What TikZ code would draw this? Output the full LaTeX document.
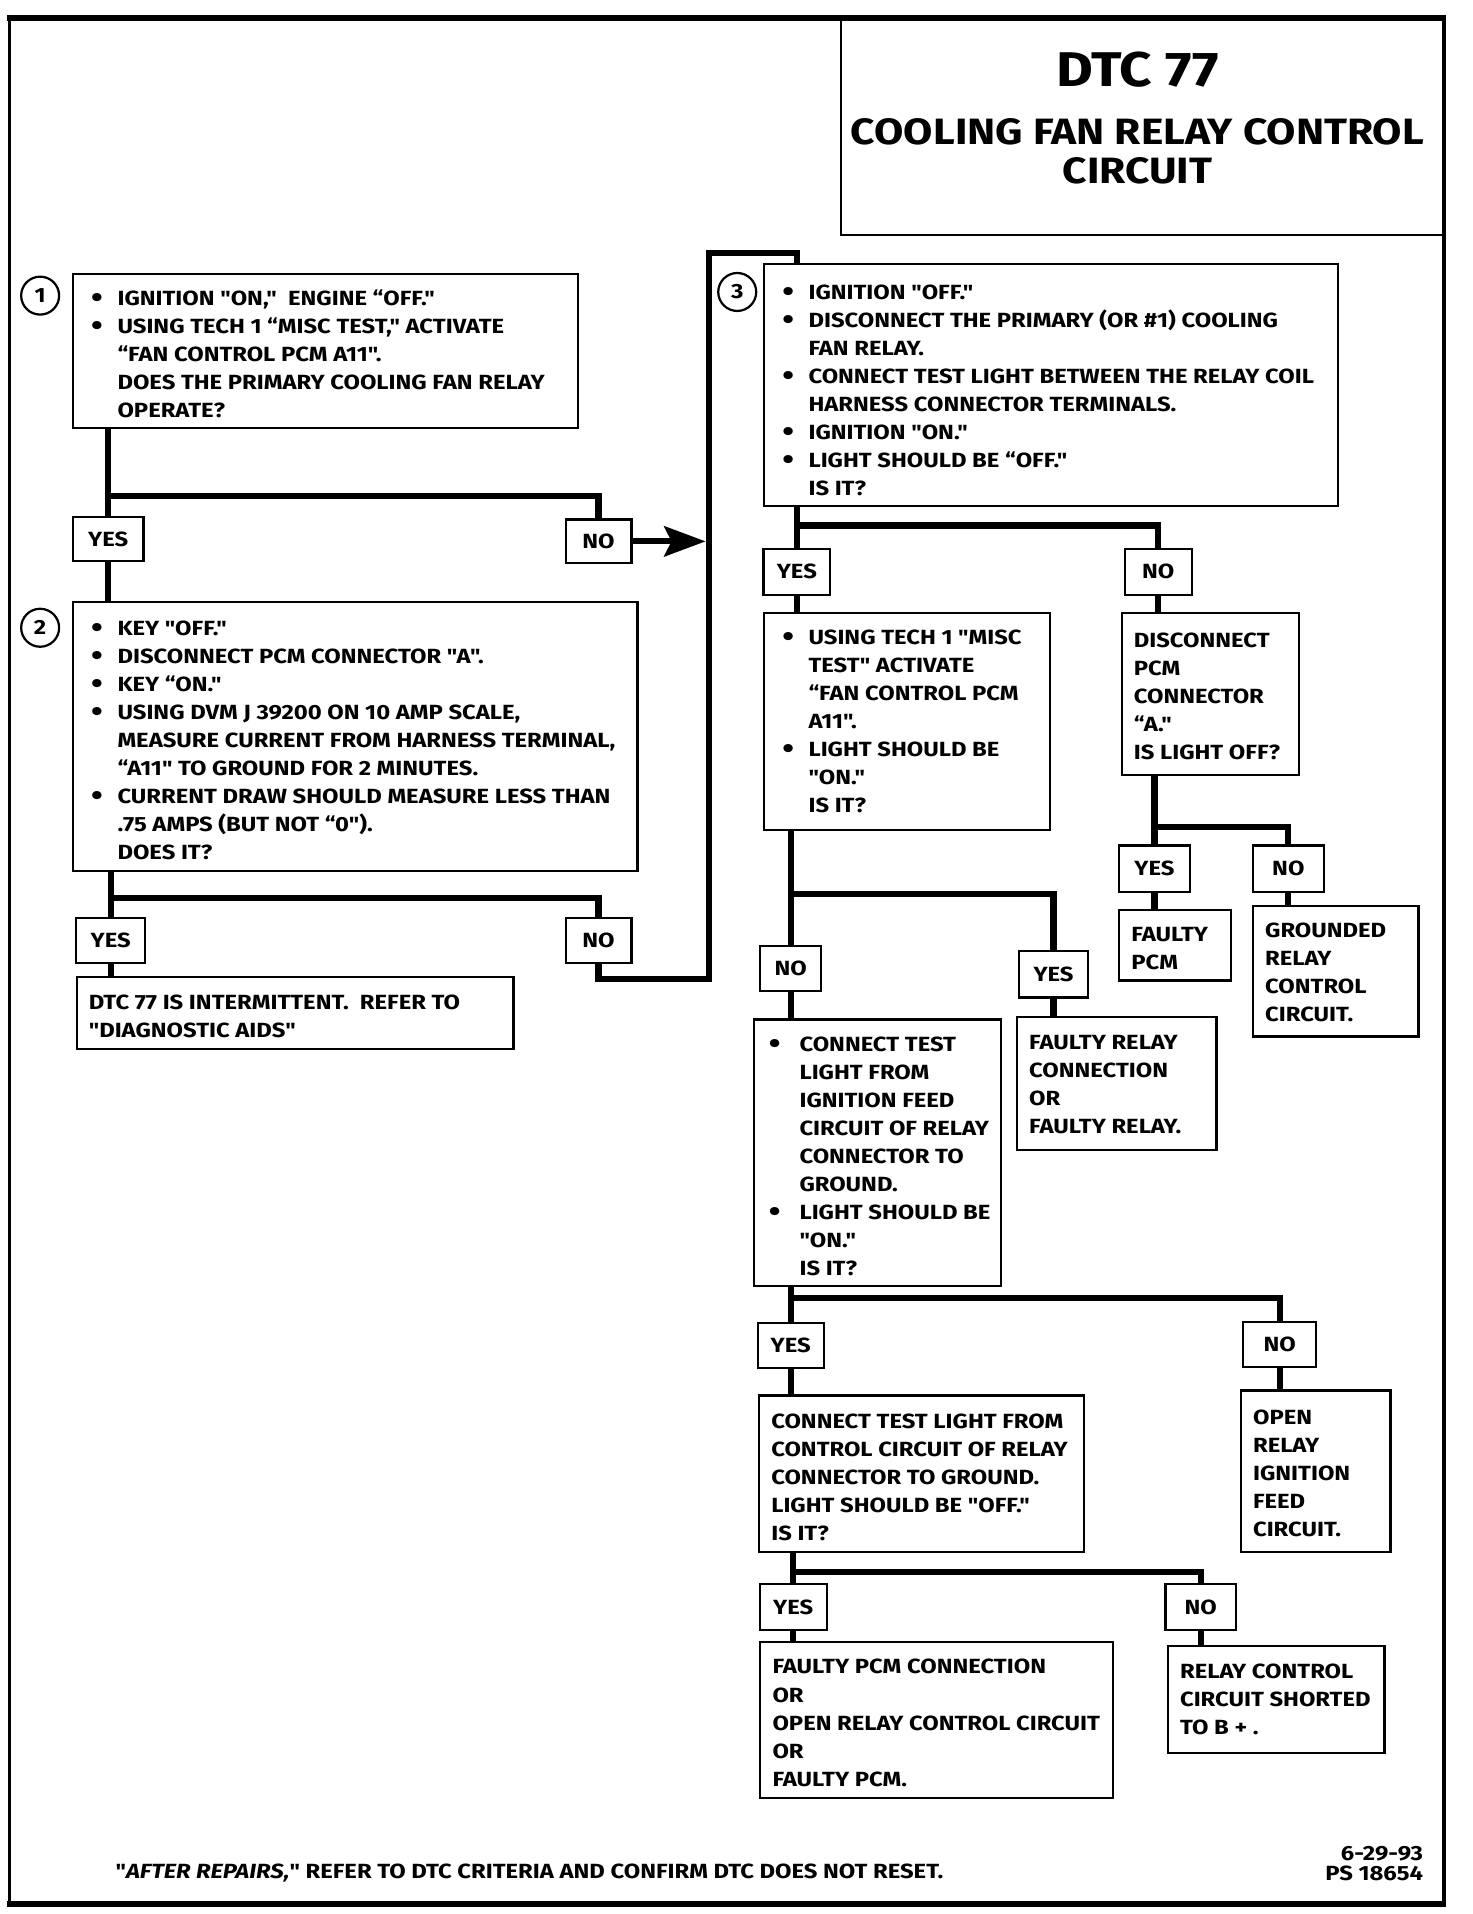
\documentclass[tikz,border=0pt]{standalone}
\usepackage{fontspec}
\setmainfont{Fira Sans}[FakeStretch=1.16, Ligatures=TeXOff]
\usetikzlibrary{arrows.meta}
\newcommand\bodyfont{\bfseries\fontsize{12pt}{16.37pt}\selectfont}
\newcommand\bul{\makebox[0.54cm][l]{\raisebox{-0.1em}{\fontsize{17pt}{17pt}\selectfont •}}}
\newcommand\bulw{\makebox[0.63cm][l]{\raisebox{-0.1em}{\fontsize{17pt}{17pt}\selectfont •}}}
\newcommand\ind{\hspace*{0.54cm}}
\newcommand\indw{\hspace*{0.63cm}}
\newcommand\mybox[5]{\node[bx, minimum width=#4*0.025cm, minimum height=#5*0.025cm] (#1) at (#2,#3) {};}
\newcommand\mylab[6]{\node[lbl, minimum width=#4*0.025cm, minimum height=#5*0.025cm] (#1) at (#2,#3) {#6};}
\newcommand\mytext[4]{\node[tx] (#1) at (#2,#3) {\begin{tabular}[t]{@{}l@{}}#4\end{tabular}};}
\begin{document}
\begin{tikzpicture}[x=0.025cm,y=-0.025cm,
  bx/.style={draw, line width=1.3pt, inner sep=0pt, outer sep=0pt, anchor=north west},
  lbl/.style={draw, line width=1.3pt, inner sep=0pt, outer sep=0pt, font=\bodyfont},
  tx/.style={anchor=base west, inner sep=0pt, outer sep=0pt, font=\bodyfont},
  cn/.style={line width=3.6pt},
  num/.style={draw, circle, line width=1.3pt, minimum size=0.78cm, inner sep=0pt, font=\bodyfont}]
\useasboundingbox (0,0) rectangle (1210,1573.3);
% frame
\draw[line width=2pt] (8,15) -- (8,1565);
\draw[line width=2pt] (1187,15) -- (1187,1565);
\draw[line width=3.6pt] (6,15) -- (1189,15);
\draw[line width=3.6pt] (6,1565) -- (1189,1565);
% title
\mybox{tb}{691}{15}{496}{178}
\node[anchor=base, inner sep=0pt, font=\bfseries\fontsize{28.5pt}{30pt}\selectfont] (title1) at (935,71) {DTC 77};
\node[anchor=base, inner sep=0pt, font=\bfseries\fontsize{21.4pt}{25pt}\selectfont] (title2) at (935,119) {COOLING FAN RELAY CONTROL};
\node[anchor=base, inner sep=0pt, font=\bfseries\fontsize{21.4pt}{25pt}\selectfont] (title3) at (935,151) {CIRCUIT};

% step 1
\node[num] (c1) at (33,243) {1};
\mybox{b1}{60}{225}{415}{127}
\mytext{t1}{75}{251}{\bul IGNITION "ON,"\ \ ENGINE “OFF."\\ \bul USING TECH 1 “MISC TEST," ACTIVATE\\ \ind “FAN CONTROL PCM A11".\\ \ind DOES THE PRIMARY COOLING FAN RELAY\\ \ind OPERATE?}
\mylab{yes1}{89}{443}{58}{36}{YES}
\mylab{no1}{492}{445}{54}{36}{NO}
\coordinate (br1) at (0,408);
\draw[cn] (yes1.north |- b1.south) -- (yes1.north);
\draw[cn] (yes1.north |- br1) -| (no1.north);
\coordinate (a1) at (580,0);
\draw[cn, -{Stealth[length=0.85cm, width=0.62cm, inset=0.15cm]}] (no1.east) -- (no1.east -| a1);

% step 2
\node[num] (c2) at (33,516) {2};
\mybox{b2}{60}{495}{464}{221}
\draw[cn] (yes1.south) -- (yes1.south |- b2.north);
\mytext{t2}{75}{522}{\bul KEY "OFF."\\ \bul DISCONNECT PCM CONNECTOR "A".\\ \bul KEY “ON."\\ \bul USING DVM J 39200 ON 10 AMP SCALE,\\ \ind MEASURE CURRENT FROM HARNESS TERMINAL,\\ \ind “A11" TO GROUND FOR 2 MINUTES.\\ \bul CURRENT DRAW SHOULD MEASURE LESS THAN\\ \ind .75 AMPS (BUT NOT “0").\\ \ind DOES IT?}
\mylab{yes2}{91}{773}{57}{37}{YES}
\mylab{no2}{492}{773}{54}{37}{NO}
\coordinate (br2) at (0,738);
\draw[cn] (yes2.north |- b2.south) -- (yes2.north);
\draw[cn] (yes2.north |- br2) -| (no2.north);
\mybox{r2}{63}{803}{359}{59}
\draw[cn] (yes2.south) -- (yes2.south |- r2.north);
\mytext{tr2}{73}{830}{DTC 77 IS INTERMITTENT.\ \ REFER TO\\ "DIAGNOSTIC AIDS"}

% step 3
\node[num] (c3) at (606,240) {3};
\mybox{b3}{628}{217}{472}{199}
\mytext{t3}{643}{246}{\bul IGNITION "OFF."\\ \bul DISCONNECT THE PRIMARY (OR \#1) COOLING\\ \ind FAN RELAY.\\ \bul CONNECT TEST LIGHT BETWEEN THE RELAY COIL\\ \ind HARNESS CONNECTOR TERMINALS.\\ \bul IGNITION "ON."\\ \bul LIGHT SHOULD BE “OFF."\\ \ind IS IT?}
\mylab{yes3}{655}{470}{55}{38}{YES}
\mylab{no3}{952}{470}{55}{38}{NO}
\coordinate (p1) at (583,805);
\coordinate (p2) at (583,208);
\draw[cn] (no2.south) |- (p1) -- (p2) -| (yes3.north |- b3.north);
\coordinate (br3) at (0,432);
\draw[cn] (yes3.north |- b3.south) -- (yes3.north);
\draw[cn] (yes3.north |- br3) -| (no3.north);

% step 3 yes
\mybox{b4}{628}{504}{235}{178}
\draw[cn] (yes3.south) -- (yes3.south |- b4.north);
\mytext{t4}{643}{530}{\bul USING TECH 1 "MISC\\ \ind TEST" ACTIVATE\\ \ind “FAN CONTROL PCM\\ \ind A11".\\ \bul LIGHT SHOULD BE\\ \ind "ON."\\ \ind IS IT?}
% step 3 no
\mybox{b5}{922}{504}{146}{133}
\draw[cn] (no3.south) -- (no3.south |- b5.north);
\mytext{t5}{932}{532}{DISCONNECT\\ PCM\\ CONNECTOR\\ “A."\\ IS LIGHT OFF?}
\mylab{yes5}{949}{714}{58}{38}{YES}
\mylab{no5}{1059}{714}{58}{38}{NO}
\coordinate (br5) at (0,680);
\draw[cn] (yes5.north |- b5.south) -- (yes5.north);
\draw[cn] (yes5.north |- br5) -| (no5.north);
\mybox{r5y}{920}{748}{92}{58}
\draw[cn] (yes5.south) -- (yes5.south |- r5y.north);
\mytext{tr5y}{930}{774}{FAULTY\\ PCM}
\mybox{r5n}{1030}{745}{136}{107}
\draw[cn] (no5.south) -- (no5.south |- r5n.north);
\mytext{tr5n}{1040}{771}{GROUNDED\\ RELAY\\ CONTROL\\ CIRCUIT.}

% step 4 branches
\mylab{no4}{650}{796}{50}{37}{NO}
\mylab{yes4}{866}{801}{57}{38}{YES}
\coordinate (br4) at (0,735);
\draw[cn] (no4.north |- b4.south) -- (no4.north);
\draw[cn] (no4.north |- br4) -| (yes4.north);
\mybox{b6}{620}{838}{203}{219}
\draw[cn] (no4.south) -- (no4.south |- b6.north);
\mytext{t6}{632}{864}{\bulw CONNECT TEST\\ \indw LIGHT FROM\\ \indw IGNITION FEED\\ \indw CIRCUIT OF RELAY\\ \indw CONNECTOR TO\\ \indw GROUND.\\ \bulw LIGHT SHOULD BE\\ \indw "ON."\\ \indw IS IT?}
\mybox{b7}{836}{836}{164}{109}
\draw[cn] (yes4.south) -- (yes4.south |- b7.north);
\mytext{t7}{846}{863}{FAULTY RELAY\\ CONNECTION\\ OR\\ FAULTY RELAY.}

% step 6 branches
\mylab{yes6}{650}{1106}{54}{37}{YES}
\mylab{no6}{1052}{1105}{60}{37}{NO}
\coordinate (br6) at (0,1067);
\draw[cn] (yes6.north |- b6.south) -- (yes6.north);
\draw[cn] (yes6.north |- br6) -| (no6.north);
\mybox{b8}{624}{1147}{267}{129}
\draw[cn] (yes6.south) -- (yes6.south |- b8.north);
\mytext{t8}{634}{1174}{CONNECT TEST LIGHT FROM\\ CONTROL CIRCUIT OF RELAY\\ CONNECTOR TO GROUND.\\ LIGHT SHOULD BE "OFF."\\ IS IT?}
\mybox{b9}{1020}{1143}{123}{133}
\draw[cn] (no6.south) -- (no6.south |- b9.north);
\mytext{t9}{1030}{1171}{OPEN\\ RELAY\\ IGNITION\\ FEED\\ CIRCUIT.}

% step 8 branches
\mylab{yes8}{652}{1321}{55}{38}{YES}
\mylab{no8}{987}{1321}{58}{38}{NO}
\coordinate (br8) at (0,1292);
\draw[cn] (yes8.north |- b8.south) -- (yes8.north);
\draw[cn] (yes8.north |- br8) -| (no8.north);
\mybox{b10}{625}{1350}{290}{128}
\draw[cn] (yes8.south) -- (yes8.south |- b10.north);
\mytext{t10}{635}{1376}{FAULTY PCM CONNECTION\\ OR\\ OPEN RELAY CONTROL CIRCUIT\\ OR\\ FAULTY PCM.}
\mybox{b11}{960}{1353}{178}{88}
\draw[cn] (no8.south) -- (no8.south |- b11.north);
\mytext{t11}{970}{1380}{RELAY CONTROL\\ CIRCUIT SHORTED\\ TO B + .}

% footer
\node[tx] (foot) at (95,1544) {"\textit{AFTER REPAIRS,}" REFER TO DTC CRITERIA AND CONFIRM DTC DOES NOT RESET.};
\node[anchor=base east, inner sep=0pt, font=\bodyfont] (d1) at (1170,1529) {6-29-93};
\node[anchor=base east, inner sep=0pt, font=\bodyfont] (d2) at (1170,1546) {PS 18654};
\end{tikzpicture}
\end{document}
